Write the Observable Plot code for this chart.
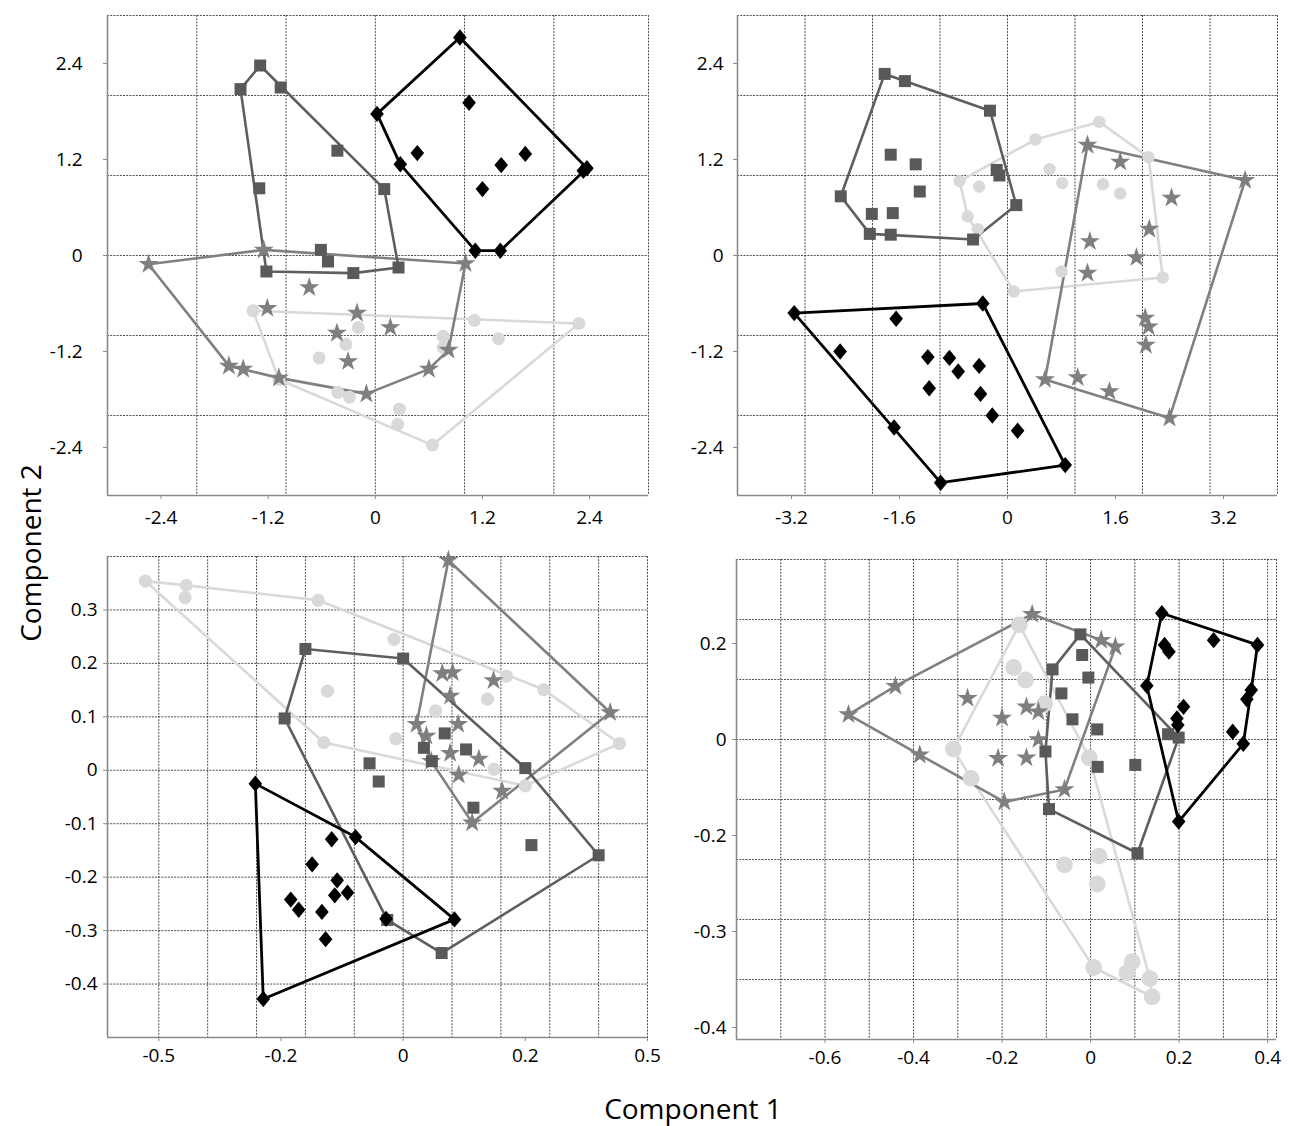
<!DOCTYPE html>
<html><head><meta charset="utf-8">
<script src="https://cdn.jsdelivr.net/npm/d3@7"></script>
<script src="https://cdn.jsdelivr.net/npm/@observablehq/plot@0.6"></script>
<style>
body{margin:0;background:#fff}
#wrap{position:relative;width:1289px;height:1126px;font-family:"Open Sans",sans-serif;overflow:hidden}
.panel{position:absolute}
.lab{position:absolute;font-size:28px;color:#000;white-space:nowrap;font-family:"Open Sans",sans-serif}
</style></head>
<body><div id="wrap"></div>
<script>
// ---------- Panel A (top-left) ----------
const tlSquares = [[-1.51,2.08],[-1.29,2.375],[-1.06,2.10],[-0.425,1.31],[-1.30,0.84],[0.10,0.83],[-0.61,0.07],[-0.53,-0.075],[-1.22,-0.20],[-0.246,-0.22],[0.26,-0.15]];
const tlDiamonds = [[0.947,2.725],[0.019,1.77],[1.05,1.91],[0.47,1.28],[0.28,1.14],[1.41,1.13],[1.68,1.27],[1.20,0.83],[2.37,1.09],[2.33,1.06],[1.12,0.06],[1.40,0.06]];
const tlStars = [[-2.54,-0.11],[-1.25,0.07],[-0.74,-0.40],[1.01,-0.10],[-1.21,-0.66],[-0.205,-0.72],[-0.43,-0.97],[0.168,-0.90],[-0.305,-1.325],[-1.64,-1.38],[-1.48,-1.42],[-0.10,-1.73],[0.60,-1.42],[0.82,-1.18],[-1.08,-1.53]];
const tlCircles = [[-1.37,-0.69],[-0.19,-0.90],[-0.33,-1.11],[-0.63,-1.28],[-1.08,-1.55],[-0.42,-1.71],[-0.29,-1.77],[0.27,-1.92],[0.25,-2.11],[0.64,-2.37],[0.76,-1.01],[0.76,-1.15],[1.11,-0.81],[1.38,-1.04],[2.28,-0.85]];
const tlXTicks = [-2.4,-1.2,0,1.2,2.4];
const tlXLabels = ["-2.4","-1.2","0","1.2","2.4"];
const tlYTicks = [2.4,1.2,0,-1.2,-2.4];
const tlYLabels = ["2.4","1.2","0","-1.2","-2.4"];
const tlGridX = [-2,-1,0,1,2];
const tlGridY = [-2,-1,0,1,2];

// ---------- Panel B (top-right) ----------
const trSquares = [[-1.82,2.27],[-1.52,2.18],[-0.26,1.81],[-2.47,0.74],[-1.73,1.26],[-1.36,1.14],[-1.30,0.80],[-0.16,1.07],[-0.12,1.00],[0.13,0.63],[-2.01,0.52],[-1.70,0.53],[-2.04,0.27],[-1.73,0.26],[-0.51,0.20]];
const trCircles = [[-0.71,0.93],[-0.42,0.86],[0.415,1.45],[1.36,1.67],[2.09,1.23],[0.624,1.08],[0.81,0.905],[1.415,0.89],[1.67,0.775],[-0.59,0.49],[-0.44,0.33],[0.80,-0.20],[0.094,-0.45],[2.30,-0.275]];
const trStars = [[1.185,1.38],[1.67,1.17],[3.52,0.94],[2.43,0.72],[2.10,0.33],[1.22,0.175],[1.91,-0.025],[1.185,-0.22],[2.04,-0.78],[2.09,-0.89],[2.05,-1.12],[0.556,-1.55],[1.04,-1.525],[1.51,-1.70],[2.40,-2.03]];
const trDiamonds = [[-3.16,-0.72],[-0.366,-0.60],[-1.65,-0.79],[-2.48,-1.20],[-1.18,-1.27],[-0.86,-1.28],[-0.73,-1.45],[-0.42,-1.38],[-1.16,-1.66],[-0.40,-1.73],[-0.225,-2.00],[0.15,-2.19],[-1.68,-2.15],[-0.99,-2.84],[0.855,-2.62]];
const trXTicks = [-3.2,-1.6,0,1.6,3.2];
const trXLabels = ["-3.2","-1.6","0","1.6","3.2"];
const trYTicks = [2.4,1.2,0,-1.2,-2.4];
const trYLabels = ["2.4","1.2","0","-1.2","-2.4"];
const trGridX = [-3,-2,-1,0,1,2,3];
const trGridY = [-2,-1,0,1,2];

// ---------- Panel C (bottom-left) ----------
const blCircles = [[-0.422,0.354],[-0.355,0.346],[-0.357,0.323],[-0.139,0.318],[-0.015,0.245],[-0.124,0.148],[0.169,0.176],[0.230,0.151],[0.138,0.133],[0.053,0.111],[-0.130,0.052],[-0.012,0.059],[0.354,0.050],[0.149,0.002],[0.200,-0.029]];
const blStars = [[0.074,0.393],[0.064,0.181],[0.081,0.183],[0.148,0.168],[0.077,0.139],[0.022,0.086],[0.090,0.086],[0.038,0.064],[0.046,0.017],[0.077,0.032],[0.124,0.021],[0.091,-0.009],[0.162,-0.039],[0.339,0.108],[0.113,-0.098]];
const blSquares = [[-0.160,0.227],[0.000,0.209],[-0.194,0.097],[0.068,0.069],[0.034,0.042],[0.103,0.039],[0.047,0.017],[-0.055,0.013],[-0.040,-0.021],[0.200,0.004],[0.115,-0.070],[0.210,-0.140],[0.320,-0.159],[-0.026,-0.280],[0.063,-0.342]];
const blDiamonds = [[-0.242,-0.025],[-0.078,-0.125],[-0.117,-0.129],[-0.149,-0.176],[-0.108,-0.206],[-0.091,-0.229],[-0.112,-0.234],[-0.184,-0.242],[-0.171,-0.261],[-0.133,-0.265],[-0.127,-0.316],[0.084,-0.279],[-0.229,-0.428],[-0.028,-0.278]];
const blXTicks = [-0.4,-0.2,0,0.2,0.4];
const blXLabels = ["-0.5","-0.2","0","0.2","0.5"];
const blYTicks = [0.3,0.2,0.1,0,-0.1,-0.2,-0.3,-0.4];
const blYLabels = ["0.3","0.2","0.1","0","-0.1","-0.2","-0.3","-0.4"];
const blGridX = [-0.40,-0.32,-0.24,-0.16,-0.08,0,0.08,0.16,0.24,0.32];
const blGridY = [0.3,0.2,0.1,0,-0.1,-0.2,-0.3,-0.4];

// ---------- Panel D (bottom-right) ----------
const brDiamonds = [[0.161,0.263],[0.167,0.197],[0.177,0.183],[0.278,0.207],[0.377,0.197],[0.127,0.112],[0.363,0.103],[0.353,0.084],[0.210,0.068],[0.195,0.044],[0.197,0.030],[0.321,0.016],[0.345,-0.009],[0.199,-0.171]];
const brSquares = [[-0.023,0.219],[-0.019,0.176],[-0.086,0.146],[-0.005,0.129],[-0.066,0.096],[-0.041,0.042],[0.015,0.021],[0.175,0.011],[0.199,0.004],[-0.102,-0.025],[0.016,-0.057],[0.101,-0.053],[-0.094,-0.145],[0.106,-0.237]];
const brStars = [[-0.132,0.261],[0.024,0.207],[0.056,0.193],[-0.441,0.111],[-0.547,0.052],[-0.278,0.086],[-0.200,0.045],[-0.145,0.068],[-0.118,0.058],[-0.118,0.000],[-0.209,-0.039],[-0.145,-0.038],[-0.386,-0.032],[-0.059,-0.104],[-0.195,-0.130]];
const brCircles = [[-0.161,0.239],[-0.174,0.150],[-0.147,0.124],[-0.104,0.074],[-0.310,-0.020],[-0.270,-0.081],[-0.003,-0.038],[-0.059,-0.261],[0.019,-0.243],[0.015,-0.301],[0.007,-0.475],[0.094,-0.463],[0.082,-0.486],[0.134,-0.498],[0.139,-0.536]];
const brXTicks = [-0.6,-0.4,-0.2,0,0.2,0.4];
const brXLabels = ["-0.6","-0.4","-0.2","0","0.2","0.4"];
const brYTicks = [0.2,0,-0.2,-0.4,-0.6];
const brYLabels = ["0.2","0","-0.2","-0.3","-0.4"];
const brGridX = [-0.7,-0.6,-0.5,-0.4,-0.3,-0.2,-0.1,0,0.1,0.2,0.3,0.4];
const brGridY = [0.25,0.125,0,-0.125,-0.25,-0.375,-0.5];

// ---------- styling ----------
const C_SQ = "#595959", C_DI = "#000000", C_ST = "#7f7f7f", C_CI = "#d9d9d9";
const diamondSym = {draw(ctx){ ctx.moveTo(0,-8.2); ctx.lineTo(6.8,0); ctx.lineTo(0,8.2); ctx.lineTo(-6.8,0); ctx.closePath(); }};
const starSym = {draw(ctx){ d3.symbolStar.draw(ctx, 125); }};
const squareSym = {draw(ctx){ ctx.rect(-6,-6,12,12); }};

const ML = 100, MR = 14, MT = 8, MB = 46;

function panel(p) {
  const X = d => d[0], Y = d => d[1];
  const xl = new Map(p.xTicks.map((t,i)=>[t,p.xLabels[i]]));
  const yl = new Map(p.yTicks.map((t,i)=>[t,p.yLabels[i]]));
  const grid = {stroke:"#222", strokeWidth:0.8, strokeDasharray:"2,1.2"};
  const axisLine = {stroke:"#8a8a8a", strokeWidth:1.6};
  const hullW = 2.6;
  const svg = Plot.plot({
    width: ML + p.w + MR, height: MT + p.h + MB,
    marginLeft: ML, marginRight: MR, marginTop: MT, marginBottom: MB,
    x: {type:"linear", domain: p.xDomain, axis: null},
    y: {type:"linear", domain: p.yDomain, axis: null},
    style: {background:"transparent", overflow:"visible", maxWidth:"none", fontFamily:'"Open Sans", sans-serif', fontSize:"19px"},
    marks: [
      Plot.ruleX(p.gridX, grid),
      Plot.ruleY(p.gridY, grid),
      Plot.ruleX([p.xDomain[1]], grid),
      Plot.ruleY([p.yDomain[1]], grid),
      Plot.ruleX([p.xDomain[0]], axisLine),
      Plot.ruleY([p.yDomain[0]], axisLine),
      Plot.hull(p.circles, {x:X, y:Y, stroke:C_CI, strokeWidth:hullW}),
      Plot.hull(p.stars, {x:X, y:Y, stroke:"#808080", strokeWidth:hullW}),
      Plot.hull(p.squares, {x:X, y:Y, stroke:"#5e5e5e", strokeWidth:hullW}),
      Plot.hull(p.diamonds, {x:X, y:Y, stroke:C_DI, strokeWidth:2.8}),
      Plot.dot(p.circles, {x:X, y:Y, r:p.cr, fill:C_CI, stroke:"none"}),
      Plot.dot(p.stars, {x:X, y:Y, symbol:starSym, fill:C_ST, stroke:"none"}),
      Plot.dot(p.squares, {x:X, y:Y, symbol:squareSym, fill:C_SQ, stroke:"none"}),
      Plot.dot(p.diamonds, {x:X, y:Y, symbol:diamondSym, fill:C_DI, stroke:"none"}),
      Plot.axisX(p.xTicks, {anchor:"bottom", tickSize:4, tickPadding:p.xPad, tickFormat:d=>xl.get(d), fontSize:19, stroke:"#8a8a8a", fill:"#000"}),
      Plot.axisY(p.yTicks, {anchor:"left", tickSize:4, tickPadding:p.yPad, tickFormat:d=>yl.get(d), fontSize:19, stroke:"#8a8a8a", fill:"#000"})
    ]
  });
  const div = document.createElement("div");
  div.className = "panel";
  div.style.left = (p.left - ML) + "px";
  div.style.top = (p.top - MT) + "px";
  div.appendChild(svg);
  document.getElementById("wrap").appendChild(div);
}

panel({left:107, top:15, w:541, h:480, xDomain:[-3,3.06], yDomain:[-3,3],
  squares:tlSquares, diamonds:tlDiamonds, stars:tlStars, circles:tlCircles, cr:6.5,
  xTicks:tlXTicks, xLabels:tlXLabels, yTicks:tlYTicks, yLabels:tlYLabels, gridX:tlGridX, gridY:tlGridY, xPad:11, yPad:21});
panel({left:737, top:15, w:540, h:480, xDomain:[-4,4], yDomain:[-3,3],
  squares:trSquares, diamonds:trDiamonds, stars:trStars, circles:trCircles, cr:6.2,
  xTicks:trXTicks, xLabels:trXLabels, yTicks:trYTicks, yLabels:trYLabels, gridX:trGridX, gridY:trGridY, xPad:11, yPad:10});
panel({left:106.5, top:556, w:540, h:481, xDomain:[-0.484,0.4], yDomain:[-0.5,0.4],
  squares:blSquares, diamonds:blDiamonds, stars:blStars, circles:blCircles, cr:6.6,
  xTicks:blXTicks, xLabels:blXLabels, yTicks:blYTicks, yLabels:blYLabels, gridX:blGridX, gridY:blGridY, xPad:7, yPad:6});
panel({left:736.3, top:559, w:540, h:480, xDomain:[-0.8,0.42], yDomain:[-0.625,0.375],
  squares:brSquares, diamonds:brDiamonds, stars:brStars, circles:brCircles, cr:8.4,
  xTicks:brXTicks, xLabels:brXLabels, yTicks:brYTicks, yLabels:brYLabels, gridX:brGridX, gridY:brGridY, xPad:7, yPad:6});

const wrap = document.getElementById("wrap");
const l2 = document.createElement("div");
l2.className = "lab"; l2.textContent = "Component 2";
l2.style.left = "30px"; l2.style.top = "553px";
l2.style.transform = "translate(-50%,-50%) rotate(-90deg)";
wrap.appendChild(l2);
const l1 = document.createElement("div");
l1.className = "lab"; l1.textContent = "Component 1";
l1.style.left = "693px"; l1.style.top = "1108px";
l1.style.transform = "translate(-50%,-50%)";
wrap.appendChild(l1);
</script>
</body></html>
